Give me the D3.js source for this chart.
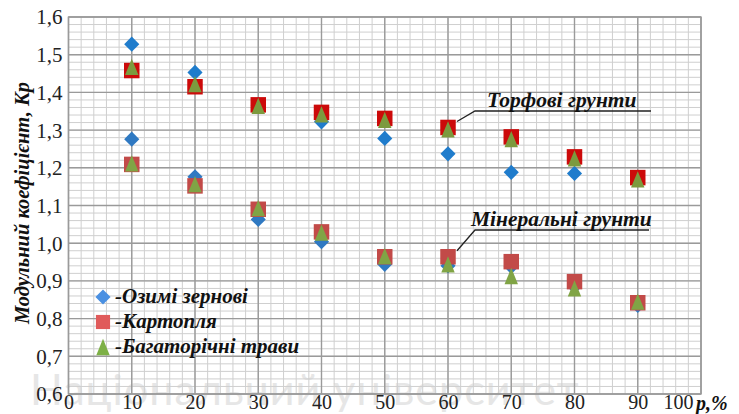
<!DOCTYPE html>
<html>
<head>
<meta charset="utf-8">
<script src="https://cdn.jsdelivr.net/npm/d3@7/dist/d3.min.js"></script>
<style>
  html, body { margin: 0; padding: 0; background: #fff; }
  svg { display: block; }
</style>
</head>
<body>
<svg id="chart" width="739" height="414"></svg>
<script>
// Provision percentages p, %
const pValues = [10, 20, 30, 40, 50, 60, 70, 80, 90];

// Peat soils (upper group)
const peatWinterGrain = [1.528, 1.453, 1.365, 1.322, 1.278, 1.237, 1.188, 1.185, 1.170];
const peatPotato      = [1.458, 1.415, 1.367, 1.347, 1.331, 1.307, 1.282, 1.229, 1.174];
const peatGrass       = [1.468, 1.422, 1.364, 1.342, 1.327, 1.302, 1.276, 1.225, 1.169];

// Mineral soils (lower group)
const minWinterGrain  = [1.276, 1.176, 1.063, 1.004, 0.944, 0.940, 0.938, 0.885, 0.835];
const minPotato       = [1.209, 1.152, 1.090, 1.030, 0.964, 0.964, 0.951, 0.898, 0.842];
const minGrass        = [1.212, 1.157, 1.093, 1.028, 0.966, 0.944, 0.913, 0.880, 0.845];

const xTicks = [0, 10, 20, 30, 40, 50, 60, 70, 80, 90, 100];
const yTicks = [0.6, 0.7, 0.8, 0.9, 1.0, 1.1, 1.2, 1.3, 1.4, 1.5, 1.6];

const legendLabels = ["-Озимі зернові", "-Картопля", "-Багаторічні трави"];
const yTitle = "Модульний коефіцієнт, Кр";
const xTitle = "p,%";
const peatLabel = "Торфові грунти";
const mineralLabel = "Мінеральні грунти";
const watermark = "Національний університет";

const SERIF = "'Liberation Serif', Tinos, 'Times New Roman', serif";

const svg = d3.select("#chart");
const W = 739, H = 414;
const m = { left: 68.5, right: 38, top: 17, bottom: 20 };

const x = d3.scaleLinear().domain([0, 100]).range([m.left, W - m.right]);
const y = d3.scaleLinear().domain([0.6, 1.6]).range([H - m.bottom, m.top]);

// Watermark text behind everything
svg.append("text")
  .attr("x", 30).attr("y", 405)
  .attr("font-family", "Lato, 'Open Sans', sans-serif")
  .attr("font-size", 43)
  .attr("fill", "#e6e6e6")
  .attr("letter-spacing", 1)
  .text(watermark);

// Minor grid
const g = svg.append("g");
g.append("g").selectAll("line")
  .data(d3.range(0, 100.01, 2))
  .join("line")
  .attr("x1", d => x(d)).attr("x2", d => x(d))
  .attr("y1", y(0.6)).attr("y2", y(1.6))
  .attr("stroke", "#cfcfcf").attr("stroke-width", 1);
g.append("g").selectAll("line")
  .data(d3.range(0.6, 1.6001, 0.02))
  .join("line")
  .attr("y1", d => y(d)).attr("y2", d => y(d))
  .attr("x1", x(0)).attr("x2", x(100))
  .attr("stroke", "#cfcfcf").attr("stroke-width", 1);

// Major grid
g.append("g").selectAll("line")
  .data(xTicks)
  .join("line")
  .attr("x1", d => x(d)).attr("x2", d => x(d))
  .attr("y1", y(0.6)).attr("y2", y(1.6))
  .attr("stroke", "#9a9a9a").attr("stroke-width", 1.4);
g.append("g").selectAll("line")
  .data(yTicks)
  .join("line")
  .attr("y1", d => y(d)).attr("y2", d => y(d))
  .attr("x1", x(0)).attr("x2", x(100))
  .attr("stroke", "#9a9a9a").attr("stroke-width", 1.4);

// Axes (labels only)
const fmt = d => d3.format(".1f")(d).replace(".", ",");
const xAxis = svg.append("g")
  .attr("transform", `translate(0,${y(0.6)})`)
  .call(d3.axisBottom(x).tickValues(xTicks).tickSize(0).tickPadding(1).tickFormat(d3.format("d")));
const yAxis = svg.append("g")
  .attr("transform", `translate(${x(0)},0)`)
  .call(d3.axisLeft(y).tickValues(yTicks).tickSize(0).tickPadding(6).tickFormat(fmt));
[xAxis, yAxis].forEach(a => {
  a.attr("font-family", null).attr("font-size", null);
  a.select(".domain").remove();
  a.selectAll("text")
    .style("font-family", SERIF)
    .style("font-size", "21px")
    .attr("fill", "#222");
});
xAxis.selectAll("text").style("font-size", "20px");
// the last x label sits left of its gridline to leave room for the axis title
xAxis.selectAll(".tick").filter(d => d === 100).select("text")
  .attr("text-anchor", "end").attr("x", -8);
yAxis.selectAll("text").attr("dy", "0.33em");

// Axis titles
svg.append("text")
  .attr("transform", "translate(29,203) rotate(-90)")
  .attr("text-anchor", "middle")
  .style("font-family", SERIF)
  .style("font-size", "20.5px").style("font-weight", "bold").style("font-style", "italic")
  .attr("fill", "#111")
  .text(yTitle);
svg.append("text")
  .attr("x", 696).attr("y", 410)
  .style("font-family", SERIF)
  .style("font-size", "20px").style("font-weight", "bold").style("font-style", "italic")
  .attr("fill", "#111")
  .text(xTitle);

// Marker shapes
const diamondPath = d3.symbol(d3.symbolSquare, 115)();
const squarePath = d3.symbol(d3.symbolSquare, 240)();
const tallTriangle = {
  draw(ctx, size) {
    const w = Math.sqrt(size) * 0.95, h = Math.sqrt(size) * 1.15;
    ctx.moveTo(0, -h / 2);
    ctx.lineTo(w / 2, h / 2);
    ctx.lineTo(-w / 2, h / 2);
    ctx.closePath();
  }
};
const trianglePath = d3.symbol(tallTriangle, 200)();

function drawSeries(vals, path, fill, rot) {
  svg.append("g").selectAll("path")
    .data(vals.map((v, i) => ({ p: pValues[i], v })))
    .join("path")
    .attr("d", path)
    .attr("transform", d => `translate(${x(d.p)},${y(d.v)})${rot ? " rotate(45)" : ""}`)
    .attr("fill", fill);
}

drawSeries(peatWinterGrain, diamondPath, "#1f7ccc", true);
drawSeries(minWinterGrain, diamondPath, "#2f79c2", true);
drawSeries(peatPotato, squarePath, "#cc0a0a", false);
drawSeries(minPotato, squarePath, "#c24a48", false);
drawSeries(peatGrass, trianglePath, "#7c9a3e", false);
drawSeries(minGrass, trianglePath, "#80a445", false);

// Group annotations with leader lines
function annotate(px, pv, label, tx, ty, lineEnd) {
  const sx = x(px) + 9, sy = y(pv) - 6;
  svg.append("path")
    .attr("d", `M${sx},${sy} L${sx + 18},${ty + 3} L${lineEnd},${ty + 3}`)
    .attr("fill", "none").attr("stroke", "#222").attr("stroke-width", 1.3);
  svg.append("text")
    .attr("x", tx).attr("y", ty - 1)
    .style("font-family", SERIF)
    .style("font-size", "21.5px").style("font-weight", "bold").style("font-style", "italic")
    .attr("fill", "#111")
    .text(label);
}
annotate(pValues[5], peatPotato[5], peatLabel, 487, 108, 651);
annotate(pValues[5], minPotato[5], mineralLabel, 471, 227, 649);

// Legend
const legend = svg.append("g");
const legendShapes = [
  { path: diamondPath, fill: "#4a90e2", rot: true },
  { path: d3.symbol(d3.symbolSquare, 200)(), fill: "#e05a5a", rot: false },
  { path: trianglePath, fill: "#7db046", rot: false }
];
legendLabels.forEach((lab, i) => {
  const ly = 297 + i * 25;
  legend.append("path")
    .attr("d", legendShapes[i].path)
    .attr("transform", `translate(103,${ly})${legendShapes[i].rot ? " rotate(45)" : ""}`)
    .attr("fill", legendShapes[i].fill);
  legend.append("text")
    .attr("x", 115).attr("y", ly + 6)
    .style("font-family", SERIF)
    .style("font-size", "21px").style("font-weight", "bold").style("font-style", "italic")
    .attr("fill", "#111")
    .text(lab);
});

// Plot frame
svg.append("rect")
  .attr("x", x(0)).attr("y", y(1.6))
  .attr("width", x(100) - x(0)).attr("height", y(0.6) - y(1.6))
  .attr("fill", "none").attr("stroke", "#9a9a9a").attr("stroke-width", 1.4);
</script>
</body>
</html>
